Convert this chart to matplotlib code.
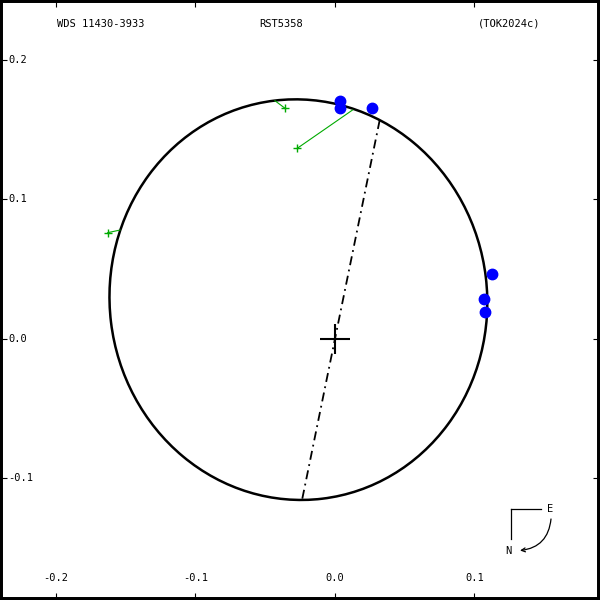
import numpy as np
import matplotlib
matplotlib.use("Agg")
import matplotlib.pyplot as plt
from matplotlib.patches import Ellipse

# orbit (apparent ellipse) in arcsec
orb_center = (-0.0262, 0.0282)
orb_major = 0.1437
orb_minor = 0.1353
orb_angle = 96.9          # deg, major axis from +x
node_dir = (0.0552, 0.270)  # line of nodes through primary

# interferometric measures (blue)
blue_x = [0.0036, 0.0036, 0.0265, 0.1125, 0.1068, 0.1075]
blue_y = [0.1706, 0.1656, 0.1656, 0.0466, 0.0287, 0.0194]

# visual measures (green) and predicted positions on the orbit
green_x = [-0.0358, -0.0270, -0.1629]
green_y = [0.1654, 0.1367, 0.0762]
pred_x = [-0.0430, 0.0127, -0.1541]
pred_y = [0.1708, 0.1642, 0.0781]

xticks = [-0.2, -0.1, 0.0, 0.1]
yticks = [0.2, 0.1, 0.0, -0.1]
xlim = (-0.2401, 0.1900)
ylim = (-0.1871, 0.2430)

fig = plt.figure(figsize=(6, 6), dpi=100)
ax = fig.add_axes([0, 0, 1, 1])
ax.set_xlim(*xlim)
ax.set_ylim(*ylim)
for s in ax.spines.values():
  s.set_linewidth(4.3)
ax.set_xticks(xticks)
ax.set_yticks(yticks)
ax.tick_params(direction='in', length=5, width=0.8, top=True, right=True,
               labelbottom=False, labelleft=False)

font = dict(family='DejaVu Sans Mono', fontsize=7.5)
for t in xticks:
  ax.text(t, 22 / 600, "%.1f" % t, transform=ax.get_xaxis_transform(),
          ha='center', va='center', **font)
for t in yticks:
  ax.text(8 / 600, t, "%.1f" % t, transform=ax.get_yaxis_transform(),
          ha='left', va='center', **font)

ax.text(101 / 600, 1 - 24 / 600, "WDS 11430-3933", transform=ax.transAxes,
        ha='center', va='center', **font)
ax.text(281.5 / 600, 1 - 24 / 600, "RST5358", transform=ax.transAxes,
        ha='center', va='center', **font)
ax.text(509.5 / 600, 1 - 24 / 600, "(TOK2024c)", transform=ax.transAxes,
        ha='center', va='center', **font)

# orbit
ax.add_patch(Ellipse(orb_center, 2 * orb_major, 2 * orb_minor, angle=orb_angle,
                     fill=False, lw=1.8, color='k'))

# line of nodes: intersections of line through origin with the ellipse
th = np.radians(orb_angle)
u = np.array(node_dir) / np.hypot(*node_dir)
c = np.array(orb_center)
R = np.array([[np.cos(th), np.sin(th)], [-np.sin(th), np.cos(th)]])
du = R @ u
dc = R @ (-c)
A = (du[0] / orb_major) ** 2 + (du[1] / orb_minor) ** 2
B = 2 * (du[0] * dc[0] / orb_major ** 2 + du[1] * dc[1] / orb_minor ** 2)
C = (dc[0] / orb_major) ** 2 + (dc[1] / orb_minor) ** 2 - 1
ts = np.roots([A, B, C])
ax.plot([ts[0] * u[0], ts[1] * u[0]], [ts[0] * u[1], ts[1] * u[1]],
        color='k', lw=1.3, ls=(0, (5, 2.5, 1, 2.5)))

# primary
ax.plot(0, 0, '+', color='k', ms=22, mew=1.5)

# O-C lines and measures
for gx, gy, px, py in zip(green_x, green_y, pred_x, pred_y):
  ax.plot([gx, px], [gy, py], color='#00aa00', lw=0.8)
ax.plot(green_x, green_y, '+', color='#00aa00', ms=6, mew=1)
ax.plot(blue_x, blue_y, 'o', color='#0000ff', ms=7.5, mec='#0000ff')

# compass
tr = ax.transAxes
ax.plot([510.7 / 600, 540.7 / 600], [1 - 509.3 / 600] * 2, color='k', lw=0.9, transform=tr)
ax.plot([510.7 / 600] * 2, [1 - 509.3 / 600, 1 - 539.3 / 600], color='k', lw=0.9, transform=tr)
ax.text(550 / 600, 1 - 509 / 600, "E", transform=tr, ha='center', va='center', **font)
ax.text(508.3 / 600, 1 - 550.7 / 600, "N", transform=tr, ha='center', va='center', **font)
ax.annotate("", xy=(520 / 600, 1 - 550.5 / 600), xytext=(551 / 600, 1 - 519 / 600),
            xycoords=tr, textcoords=tr,
            arrowprops=dict(arrowstyle='->', lw=0.9, color='k', shrinkA=0, shrinkB=0,
                            connectionstyle='arc3,rad=-0.4', mutation_scale=7))

fig.savefig("out.png", dpi=100)
